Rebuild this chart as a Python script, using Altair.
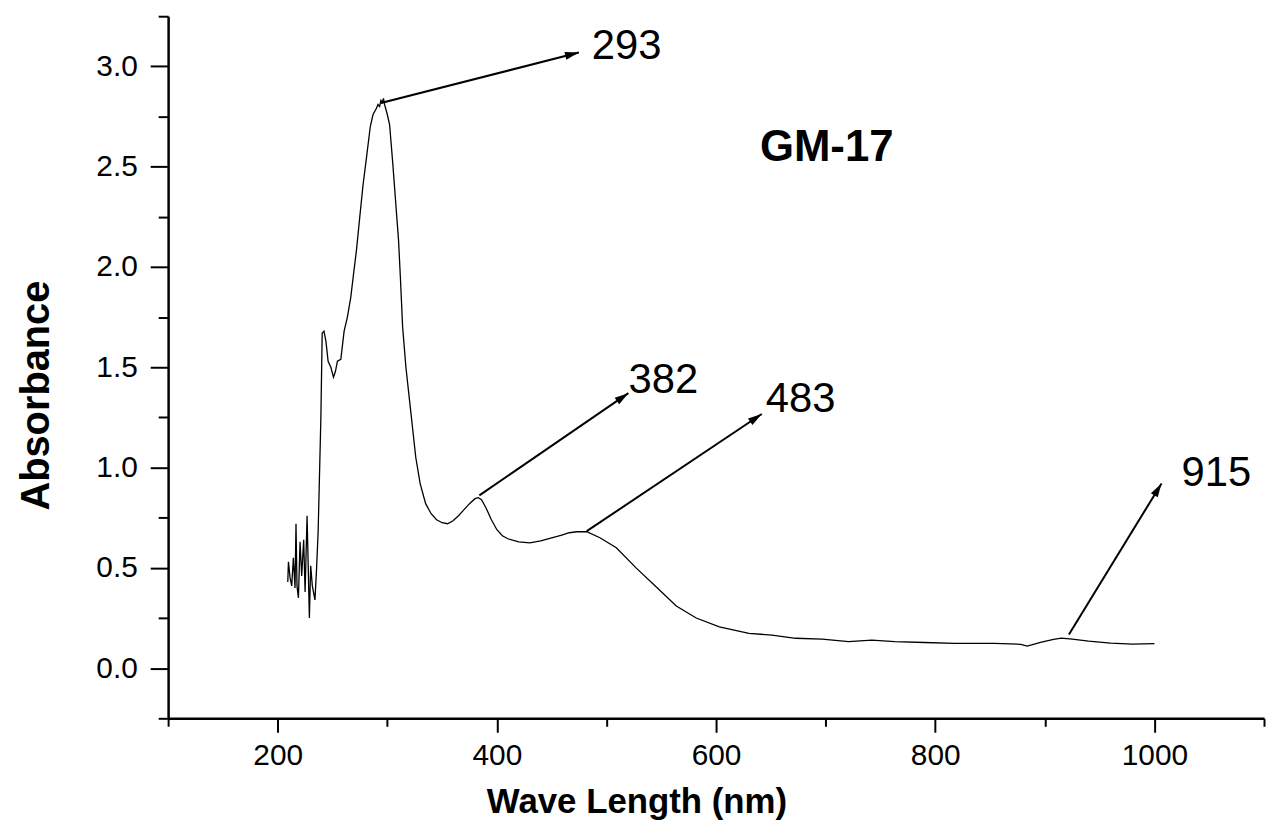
import altair as alt
import pandas as pd

# Spectrum
wavelength = [
    209.2, 209.8, 211.3, 212.8, 214.3, 215.8, 216.7, 217.6, 218.9, 220.4,
    221.9, 223.7, 225.0, 226.8, 228.9, 230.1, 231.6, 234.0, 235.5, 236.9,
    239.4, 240.6, 242.2, 244.0, 246.0, 248.5, 250.9, 252.7, 254.5, 257.6,
    260.6, 263.6, 266.7, 269.1, 271.8, 274.9, 277.9, 280.9, 284.5, 287.0,
    290.0, 291.5, 293.0, 294.2, 295.4, 296.5, 297.5, 300.0, 302.1, 305.1,
    308.1, 310.3, 312.1, 314, 317, 321, 326, 330, 335, 340,
    345, 350, 355, 360, 365, 370, 375, 380, 383, 386,
    390, 395, 400, 405, 410, 420, 430, 440, 450, 455,
    460, 466, 473, 482, 494, 509, 527, 545.5, 563.7, 581.9,
    603, 630, 651, 672.6, 696.8, 720.9, 742.1, 763, 790, 818,
    854, 878, 884, 896, 908, 915, 925, 940, 960, 980,
    1000,
]
absorbance = [
    0.43, 0.53, 0.45, 0.41, 0.55, 0.40, 0.72, 0.41, 0.35, 0.63,
    0.46, 0.64, 0.38, 0.76, 0.25, 0.51, 0.41, 0.34, 0.50, 0.68,
    1.25, 1.67, 1.68, 1.63, 1.53, 1.50, 1.45, 1.48, 1.53, 1.54,
    1.68, 1.75, 1.85, 1.96, 2.08, 2.25, 2.41, 2.54, 2.70, 2.76,
    2.79, 2.81, 2.80, 2.83, 2.82, 2.84, 2.81, 2.76, 2.71, 2.51,
    2.29, 2.13, 1.93, 1.70, 1.50, 1.30, 1.05, 0.92, 0.82, 0.77,
    0.74, 0.725, 0.72, 0.735, 0.76, 0.79, 0.82, 0.845, 0.85, 0.84,
    0.80, 0.74, 0.69, 0.66, 0.645, 0.63, 0.625, 0.635, 0.65, 0.657,
    0.665, 0.675, 0.68, 0.68, 0.65, 0.60, 0.50, 0.405, 0.31, 0.25,
    0.206, 0.173, 0.165, 0.149, 0.145, 0.132, 0.140, 0.132, 0.128, 0.124,
    0.124, 0.119, 0.11, 0.128, 0.144, 0.15, 0.145, 0.135, 0.125, 0.12,
    0.122,
]

# Peak annotations
peak_labels = ["293", "382", "483", "915"]
label_x = [486.6, 520.1, 645.4, 1024.7]
label_y = [3.035, 1.371, 1.277, 0.906]
arrow_x0 = [294.2, 384.0, 482.0, 922.0]
arrow_y0 = [2.817, 0.861, 0.683, 0.168]
arrow_x1 = [474.8, 520.0, 641.7, 1006.5]
arrow_y1 = [3.069, 1.371, 1.267, 0.921]
arrow_angle = [75.6, 55.5, 56.2, 31.5]

sample_name = ["GM-17"]
sample_x = [640.0]
sample_y = [2.53]

x_ticks = [100, 200, 300, 400, 500, 600, 700, 800, 900, 1000, 1100]
y_ticks = [-0.25, 0.0, 0.25, 0.5, 0.75, 1.0, 1.25, 1.5, 1.75, 2.0,
           2.25, 2.5, 2.75, 3.0, 3.25]

spec = pd.DataFrame({"wl": wavelength, "a": absorbance})
arrows = pd.DataFrame({"x0": arrow_x0, "y0": arrow_y0, "x1": arrow_x1,
                       "y1": arrow_y1, "ang": arrow_angle})
labels = pd.DataFrame({"t": peak_labels, "x": label_x, "y": label_y})
sample = pd.DataFrame({"t": sample_name, "x": sample_x, "y": sample_y})

FONT = "Liberation Sans"
x_major = "datum.value % 200 == 0"
y_major = "abs(datum.value*2 - round(datum.value*2)) < 0.001"

xscale = alt.Scale(domain=[100, 1100], nice=False, zero=False)
yscale = alt.Scale(domain=[-0.25, 3.25], nice=False, zero=False)

x_axis = alt.Axis(
    values=x_ticks, title="Wave Length (nm)",
    labelExpr=f"{x_major} ? format(datum.value, 'd') : ''",
    tickSize={"condition": {"test": x_major, "value": 14}, "value": 8},
    tickWidth=2, tickColor="black", domainColor="black", domainWidth=2.5,
    labelFont=FONT, labelFontSize=30, labelColor="black", labelPadding=8,
    labelFlush=False,
    titleFont=FONT, titleFontSize=35, titleFontWeight="bold", titleColor="black",
    titleX=471, titleY=95, titleBaseline="alphabetic", titleAnchor="middle",
    grid=False,
)
y_axis = alt.Axis(
    values=y_ticks, title="Absorbance",
    labelExpr=f"{y_major} ? format(datum.value, '.1f') : ''",
    tickSize={"condition": {"test": y_major, "value": 18}, "value": 10},
    tickWidth=2, tickColor="black", domainColor="black", domainWidth=2.5,
    labelFont=FONT, labelFontSize=30, labelColor="black", labelPadding=13,
    labelFlush=False,
    titleFont=FONT, titleFontSize=40, titleFontWeight="bold", titleColor="black",
    titleX=-120, titleY=381, titleBaseline="alphabetic", titleAngle=-90,
    titleAlign="center",
    grid=False,
)

line = alt.Chart(spec).mark_line(color="black", strokeWidth=1.3).encode(
    x=alt.X("wl:Q", scale=xscale, axis=x_axis),
    y=alt.Y("a:Q", scale=yscale, axis=y_axis),
    order="wl:Q",
)

rules = alt.Chart(arrows).mark_rule(color="black", strokeWidth=2).encode(
    x=alt.X("x0:Q", scale=xscale), y=alt.Y("y0:Q", scale=yscale),
    x2="x1:Q", y2="y1:Q",
)

heads = alt.Chart(arrows).mark_point(
    shape="M0,0L-0.36,1.25L0.36,1.25Z", filled=True, color="black",
    size=500, opacity=1, strokeWidth=0,
).encode(
    x=alt.X("x1:Q", scale=xscale), y=alt.Y("y1:Q", scale=yscale),
    angle=alt.Angle("ang:Q", scale=None),
)

texts = alt.Chart(labels).mark_text(
    font=FONT, fontSize=42, align="left", baseline="alphabetic", color="black"
).encode(
    x=alt.X("x:Q", scale=xscale), y=alt.Y("y:Q", scale=yscale), text="t:N",
)

stext = alt.Chart(sample).mark_text(
    font=FONT, fontSize=44, fontWeight="bold", align="left",
    baseline="alphabetic", color="black"
).encode(
    x=alt.X("x:Q", scale=xscale), y=alt.Y("y:Q", scale=yscale), text="t:N",
)

chart = alt.layer(line, rules, heads, texts, stext).properties(
    width=1102, height=706,
    autosize=alt.AutoSizeParams(type="none"),
    padding={"left": 161, "top": 6, "right": 2, "bottom": 100},
    background="white",
).configure_view(stroke=None)

chart.save("out.html", embed_options={"renderer": "svg", "actions": False})
